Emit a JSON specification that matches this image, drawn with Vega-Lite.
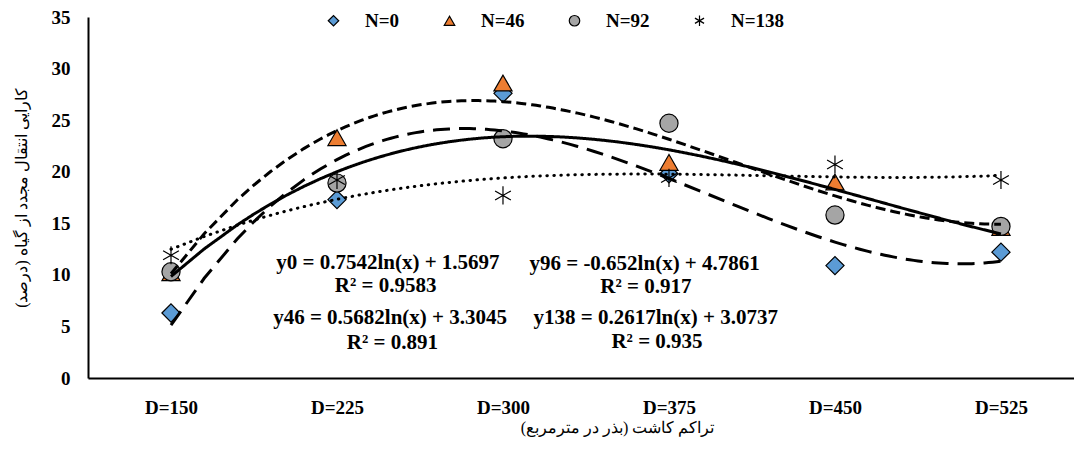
{
  "$schema": "https://vega.github.io/schema/vega-lite/v6.json",
  "width": 986,
  "height": 361,
  "autosize": "none",
  "padding": {"left": 88, "top": 17, "right": 0, "bottom": 71},
  "background": "white",
  "config": {
    "view": {"stroke": null},
    "font": "Liberation Serif",
    "legend": {
      "orient": "none",
      "legendX": 236,
      "legendY": -6,
      "direction": "horizontal",
      "padding": 0,
      "symbolSize": 110,
      "symbolStrokeWidth": 1.2,
      "labelFont": "Liberation Serif",
      "labelFontSize": 19,
      "labelFontWeight": "bold",
      "labelColor": "black",
      "labelOffset": 22,
      "columnPadding": 40
    }
  },
  "datasets": {
    "obs": [
      {"series": "N=0", "density": 150, "value": 6.3},
      {"series": "N=0", "density": 225, "value": 17.3},
      {"series": "N=0", "density": 300, "value": 27.6},
      {"series": "N=0", "density": 375, "value": 19.8},
      {"series": "N=0", "density": 450, "value": 10.9},
      {"series": "N=0", "density": 525, "value": 12.2},
      {"series": "N=46", "density": 150, "value": 10.2},
      {"series": "N=46", "density": 225, "value": 23.3},
      {"series": "N=46", "density": 300, "value": 28.6},
      {"series": "N=46", "density": 375, "value": 20.9},
      {"series": "N=46", "density": 450, "value": 19.0},
      {"series": "N=46", "density": 525, "value": 14.6},
      {"series": "N=92", "density": 150, "value": 10.3},
      {"series": "N=92", "density": 225, "value": 18.9},
      {"series": "N=92", "density": 300, "value": 23.2},
      {"series": "N=92", "density": 375, "value": 24.7},
      {"series": "N=92", "density": 450, "value": 15.8},
      {"series": "N=92", "density": 525, "value": 14.7},
      {"series": "N=138", "density": 150, "value": 11.9},
      {"series": "N=138", "density": 225, "value": 19.2},
      {"series": "N=138", "density": 300, "value": 17.7},
      {"series": "N=138", "density": 375, "value": 19.4},
      {"series": "N=138", "density": 450, "value": 20.7},
      {"series": "N=138", "density": 525, "value": 19.2}
    ],
    "eq": [
      {"label": "y0 = 0.7542ln(x) + 1.5697", "density": 248, "value": 11.15},
      {"label": "R² = 0.9583", "density": 247, "value": 8.92},
      {"label": "y46 = 0.5682ln(x) + 3.3045", "density": 249, "value": 5.82},
      {"label": "R² = 0.891", "density": 250, "value": 3.39},
      {"label": "y96 = -0.652ln(x) + 4.7861", "density": 364, "value": 11.06},
      {"label": "R² = 0.917", "density": 364.6, "value": 8.83},
      {"label": "y138 = 0.2617ln(x) + 3.0737", "density": 369, "value": 5.82},
      {"label": "R² = 0.935", "density": 369.6, "value": 3.49}
    ]
  },
  "encoding": {
    "x": {
      "field": "density",
      "type": "quantitative",
      "scale": {"domain": [112.5, 558], "nice": false, "zero": false},
      "axis": {
        "values": [150, 225, 300, 375, 450, 525],
        "labelExpr": "'D=' + datum.value",
        "title": "تراکم کاشت (بذر در مترمربع)",
        "grid": false,
        "ticks": false,
        "tickSize": 0,
        "labelFlush": false,
        "labelPadding": 20,
        "labelFont": "Liberation Serif",
        "labelFontSize": 19,
        "labelFontWeight": "bold",
        "labelColor": "black",
        "domainColor": "black",
        "domainWidth": 2,
        "titleFont": "Liberation Serif",
        "titleFontSize": 16,
        "titleFontWeight": "normal",
        "titleColor": "black",
        "titlePadding": 2,
        "titleX": 529
      }
    },
    "y": {
      "field": "value",
      "type": "quantitative",
      "scale": {"domain": [0, 35], "nice": false},
      "axis": {
        "values": [0, 5, 10, 15, 20, 25, 30, 35],
        "title": "کارایی انتقال مجدد از گیاه (درصد)",
        "grid": false,
        "ticks": false,
        "tickSize": 0,
        "labelPadding": 18,
        "labelFont": "Liberation Serif",
        "labelFontSize": 19,
        "labelFontWeight": "bold",
        "labelColor": "black",
        "domainColor": "black",
        "domainWidth": 2,
        "titleFont": "Liberation Serif",
        "titleFontSize": 16,
        "titleFontWeight": "normal",
        "titleColor": "black",
        "titlePadding": 22
      }
    }
  },
  "layer": [
    {
      "data": {"name": "obs"},
      "mark": {"type": "point", "filled": true, "strokeWidth": 1.2, "opacity": 1},
      "encoding": {
        "shape": {
          "field": "series",
          "type": "nominal",
          "scale": {
            "domain": ["N=0", "N=46", "N=92", "N=138"],
            "range": ["diamond", "triangle-up", "circle", "M0,-1L0,1M-0.87,-0.5L0.87,0.5M-0.87,0.5L0.87,-0.5"]
          },
          "legend": {"title": null}
        },
        "fill": {
          "field": "series",
          "type": "nominal",
          "scale": {
            "domain": ["N=0", "N=46", "N=92", "N=138"],
            "range": ["#5B9BD5", "#ED7D31", "#A5A5A5", "black"]
          },
          "legend": {"title": null}
        },
        "stroke": {
          "field": "series",
          "type": "nominal",
          "scale": {
            "domain": ["N=0", "N=46", "N=92", "N=138"],
            "range": ["black", "black", "black", "black"]
          },
          "legend": {"title": null}
        },
        "size": {"value": 330}
      }
    },
    {
      "data": {"name": "obs"},
      "transform": [
        {"regression": "value", "on": "density", "groupby": ["series"], "method": "poly", "order": 3},
        {"filter": "datum.series !== 'N=138'"}
      ],
      "mark": {"type": "line", "color": "black", "strokeWidth": 3, "strokeCap": "butt"},
      "encoding": {
        "strokeDash": {
          "field": "series",
          "type": "nominal",
          "scale": {"domain": ["N=0", "N=46", "N=92"], "range": [[17, 9], [10, 5], [1, 0]]},
          "legend": null
        }
      }
    },
    {
      "data": {"name": "obs"},
      "transform": [
        {"regression": "value", "on": "density", "groupby": ["series"], "method": "poly", "order": 3},
        {"filter": "datum.series === 'N=138'"}
      ],
      "mark": {"type": "line", "color": "black", "strokeWidth": 3, "strokeCap": "round", "strokeDash": [0.5, 6.5]},
      "encoding": {}
    },
    {
      "data": {"name": "eq"},
      "mark": {"type": "text", "font": "Liberation Serif", "fontSize": 21, "fontWeight": "bold", "color": "black"},
      "encoding": {"text": {"field": "label"}}
    }
  ]
}
